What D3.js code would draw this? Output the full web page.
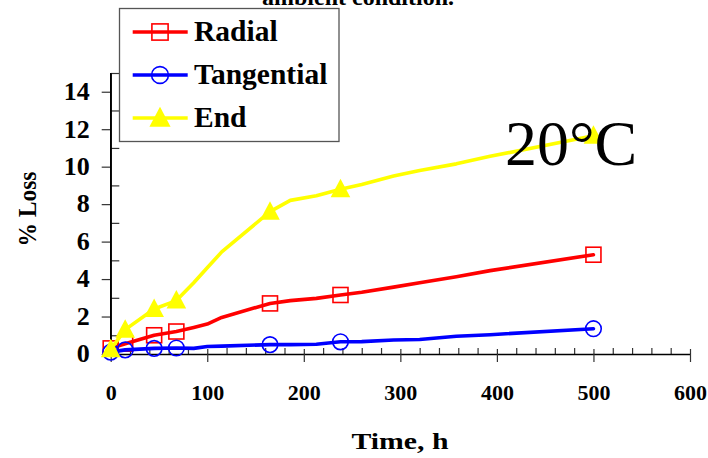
<!DOCTYPE html>
<html>
<head>
<meta charset="utf-8">
<script src="https://cdn.jsdelivr.net/npm/d3@7/dist/d3.min.js"></script>
<style>
  html, body { margin: 0; padding: 0; background: #fff; }
  svg { display: block; }
</style>
</head>
<body>
<svg id="chart" width="708" height="458"></svg>
<script>
// Sampling times (h) and weight loss (%) for each grain direction
const hours       = [0, 15, 45, 68, 86, 100, 115, 165, 186, 213, 238, 260, 293, 320, 358, 393, 500];
const radial      = [0.3, 0.55, 1.0, 1.2, 1.42, 1.6, 1.95, 2.7, 2.85, 2.97, 3.15, 3.3, 3.57, 3.8, 4.12, 4.45, 5.3];
const tangential  = [0.1, 0.22, 0.3, 0.32, 0.3, 0.4, 0.42, 0.5, 0.5, 0.52, 0.65, 0.66, 0.75, 0.77, 0.95, 1.03, 1.35];
const endGrain    = [0.25, 1.3, 2.4, 2.85, 3.8, 4.6, 5.45, 7.6, 8.2, 8.45, 8.8, 9.05, 9.5, 9.8, 10.15, 10.55, 11.65];
// Times at which a marker symbol is drawn
const markerHours = [0, 15, 45, 68, 165, 238, 500];

const seriesNames  = ["Radial", "Tangential", "End"];
const seriesValues = [radial, tangential, endGrain];
const seriesColors = ["#ff0000", "#0000ff", "#ffff00"];
const seriesShapes = ["square", "circle", "triangle"];

const xMajorTicks = [0, 100, 200, 300, 400, 500, 600];
const yMajorTicks = [0, 2, 4, 6, 8, 10, 12, 14];

const SERIF = "'Liberation Serif', 'Times New Roman', Times, serif";

const svg = d3.select("#chart");

const x = d3.scaleLinear().domain([0, 600]).range([110.7, 690]);
const y = d3.scaleLinear().domain([0, 15]).range([354, 73]);

// ---- axes ----
const xMinor = d3.range(0, 601, 20).filter(v => v % 100 !== 0);
const yMinor = d3.range(1, 16, 2);

const tickColor = "#333";

// x axis: minor ticks inward, major ticks crossing the line
svg.append("g").attr("transform", `translate(0,${y(0)})`)
  .call(d3.axisBottom(x).tickValues(xMinor).tickSizeInner(-6).tickSizeOuter(0).tickFormat(""))
  .call(g => g.select(".domain").remove());
svg.append("g").attr("transform", `translate(0,${y(0)})`)
  .call(d3.axisBottom(x).tickValues(xMajorTicks).tickSizeInner(-5).tickSizeOuter(0).tickFormat(""))
  .call(g => g.select(".domain").remove());
const gx = svg.append("g").attr("transform", `translate(0,${y(0)})`)
  .call(d3.axisBottom(x).tickValues(xMajorTicks).tickSizeInner(8).tickSizeOuter(0).tickPadding(22).tickFormat(d3.format("d")));

gx.selectAll("text")
  .attr("font-family", SERIF)
  .attr("font-weight", "bold")
  .attr("font-size", 22)
  .attr("fill", "#000");

// y axis: minor ticks inward, major ticks outward with labels
svg.append("g").attr("transform", `translate(${x(0)},0)`)
  .call(d3.axisLeft(y).tickValues(yMinor).tickSizeInner(-8.6).tickSizeOuter(0).tickFormat(""))
  .call(g => g.select(".domain").remove());
const gy = svg.append("g").attr("transform", `translate(${x(0)},0)`)
  .call(d3.axisLeft(y).tickValues(yMajorTicks).tickSizeInner(9).tickSizeOuter(0).tickPadding(12).tickFormat(d3.format("d")));

gy.selectAll("text")
  .attr("font-family", SERIF)
  .attr("font-weight", "bold")
  .attr("font-size", 26)
  .attr("fill", "#000")
  .attr("dy", "0.3em");

svg.selectAll(".tick line").attr("stroke", tickColor).attr("stroke-width", 1.2);
svg.selectAll(".domain").attr("stroke", "#000").attr("stroke-width", 1.4);

// y axis line spans the full 0..15 range
svg.append("line")
  .attr("x1", x(0)).attr("x2", x(0))
  .attr("y1", y(15)).attr("y2", y(0))
  .attr("stroke", "#000").attr("stroke-width", 1.4);

// ---- markers ----
function drawMarker(g, shape, cx, cy, color, scale) {
  const s = scale || 1;
  if (shape === "square") {
    const h = 7.5 * s;
    g.append("rect")
      .attr("x", cx - h).attr("y", cy - h)
      .attr("width", 2 * h).attr("height", 2 * h)
      .attr("fill", "none").attr("stroke", color).attr("stroke-width", 1.6);
  } else if (shape === "circle") {
    g.append("circle")
      .attr("cx", cx).attr("cy", cy).attr("r", 7.8 * s)
      .attr("fill", "none").attr("stroke", color).attr("stroke-width", 1.6);
  } else {
    const w = 9.8 * s, top = 10.5 * s, bot = 8 * s;
    g.append("path")
      .attr("d", `M${cx},${cy - top}L${cx + w},${cy + bot}L${cx - w},${cy + bot}Z`)
      .attr("fill", color).attr("stroke", "none");
  }
}

// ---- series ----
const line = d3.line().x(d => x(d[0])).y(d => y(d[1]));

seriesValues.forEach((vals, i) => {
  const pts = hours.map((h, j) => [h, vals[j]]);
  const g = svg.append("g");
  g.append("path")
    .attr("d", line(pts))
    .attr("fill", "none")
    .attr("stroke", seriesColors[i])
    .attr("stroke-width", 3.6)
    .attr("stroke-linejoin", "round")
    .attr("stroke-linecap", "round");
  pts.filter(p => markerHours.includes(p[0])).forEach(p => {
    drawMarker(g, seriesShapes[i], x(p[0]), y(p[1]), seriesColors[i]);
  });
});

// ---- legend ----
const legend = svg.append("g");
legend.append("rect")
  .attr("x", 119.5).attr("y", 8.5).attr("width", 219.5).attr("height", 133)
  .attr("fill", "#fff").attr("stroke", "#555").attr("stroke-width", 1.3);
const legendRows = [32, 75, 118];
seriesNames.forEach((name, i) => {
  const ly = legendRows[i];
  legend.append("line")
    .attr("x1", 132.7).attr("x2", 187.7).attr("y1", ly).attr("y2", ly)
    .attr("stroke", seriesColors[i]).attr("stroke-width", 3.6);
  drawMarker(legend, seriesShapes[i], 160, ly, seriesColors[i], 1.08);
  legend.append("text")
    .attr("x", 194).attr("y", ly + 8.5)
    .attr("font-family", SERIF)
    .attr("font-weight", "bold").attr("font-size", 29.5)
    .attr("fill", "#000")
    .text(name);
});

// ---- titles and annotations ----
svg.append("text")
  .attr("x", 358).attr("y", 4.5)
  .attr("text-anchor", "middle")
  .attr("font-family", SERIF)
  .attr("font-weight", "bold").attr("font-size", 24)
  .text("ambient condition.");

svg.append("text")
  .attr("x", 505).attr("y", 165)
  .attr("font-family", SERIF)
  .attr("font-size", 64)
  .attr("fill", "#000")
  .text("20°C");

svg.append("text")
  .attr("x", 400).attr("y", 449)
  .attr("text-anchor", "middle")
  .attr("font-family", SERIF)
  .attr("font-weight", "bold").attr("font-size", 23)
  .attr("textLength", 97).attr("lengthAdjust", "spacingAndGlyphs")
  .text("Time, h");

svg.append("text")
  .attr("transform", "translate(36,209) rotate(-90)")
  .attr("text-anchor", "middle")
  .attr("font-family", SERIF)
  .attr("font-weight", "bold").attr("font-size", 25)
  .attr("textLength", 75).attr("lengthAdjust", "spacingAndGlyphs")
  .text("% Loss");
</script>
</body>
</html>
